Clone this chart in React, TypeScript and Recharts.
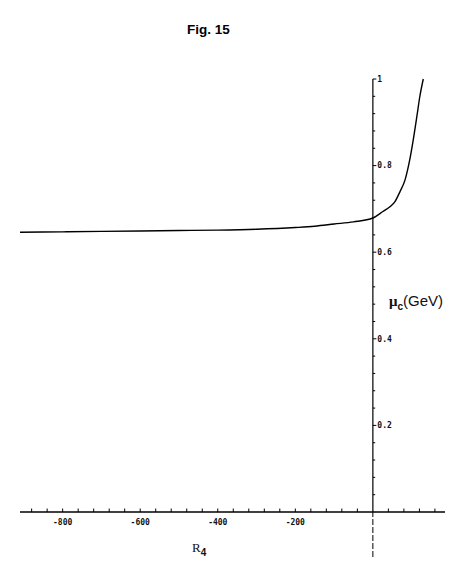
import React from "react";
import { ComposedChart, Line, XAxis, YAxis, ReferenceLine } from "recharts";

// R4 (x) and mu_c in GeV (y)
const R4 = [-910, -800, -700, -600, -500, -400, -300, -200, -150, -100, -50, 0, 26, 44, 57, 70, 83, 95, 104, 114, 121, 130];
const MU_C = [0.646, 0.647, 0.648, 0.649, 0.65, 0.651, 0.653, 0.657, 0.66, 0.665, 0.67, 0.679, 0.694, 0.705, 0.717, 0.74, 0.767, 0.813, 0.859, 0.917, 0.959, 1.0];

const X_LABEL_TICKS = [-800, -600, -400, -200];
const X_MINOR_TICKS = [-880, -840, -800, -760, -720, -680, -640, -600, -560, -520, -480, -440, -400, -360, -320, -280, -240, -200, -160, -120, -80, -40, 40, 80, 120, 160];
const Y_MAJOR_TICKS = [0.2, 0.4, 0.6, 0.8, 1.0];
const Y_MAJOR_LABELS = ["0.2", "0.4", "0.6", "0.8", "1"];
const Y_MINOR_TICKS = [0.04, 0.08, 0.12, 0.16, 0.24, 0.28, 0.32, 0.36, 0.44, 0.48, 0.52, 0.56, 0.64, 0.68, 0.72, 0.76, 0.84, 0.88, 0.92, 0.96];

const data = R4.map((r, i) => ({ r, mu: MU_C[i] }));

const tickFont = { fontSize: 8, fontFamily: "DejaVu Sans Mono", fontWeight: "bold", fill: "#111" };

export default function App() {
  return (
    <div style={{ position: "absolute", left: 0, top: 0, width: 472, height: 561, background: "#fff" }}>
      <div style={{ position: "absolute", left: 187, top: 22, fontFamily: "Liberation Sans", fontWeight: "bold", fontSize: 13.5 }}>
        Fig. 15
      </div>

      <ComposedChart width={472} height={561} data={data} margin={{ top: 79, right: 27, bottom: 29, left: 20 }}>
        <XAxis
          dataKey="r"
          type="number"
          domain={[-910, 186]}
          ticks={X_LABEL_TICKS}
          interval={0}
          tickLine={false}
          tickSize={0}
          tickMargin={7}
          height={20}
          axisLine={{ stroke: "#000", strokeWidth: 1.5 }}
          tick={tickFont}
          allowDataOverflow
        />
        <YAxis type="number" domain={[0, 1]} hide />

        {/* y axis drawn through x = 0 */}
        <ReferenceLine segment={[{ x: 0, y: 0 }, { x: 0, y: 1 }]} stroke="#000" strokeWidth={1.2} ifOverflow="visible" />
        <ReferenceLine segment={[{ x: 0, y: -0.104 }, { x: 0, y: 0 }]} stroke="#000" strokeWidth={1} strokeDasharray="6 2" ifOverflow="visible" />

        {Y_MINOR_TICKS.map((v) => (
          <ReferenceLine key={"ym" + v} segment={[{ x: 0, y: v }, { x: 6, y: v }]} stroke="#000" ifOverflow="visible" />
        ))}
        {Y_MAJOR_TICKS.map((v, i) => (
          <ReferenceLine
            key={"yM" + v}
            segment={[{ x: 0, y: v }, { x: 9, y: v }]}
            stroke="#000"
            ifOverflow="visible"
            label={{ value: Y_MAJOR_LABELS[i], position: "right", offset: 1, ...tickFont }}
          />
        ))}
        {X_MINOR_TICKS.map((v) => (
          <ReferenceLine key={"xm" + v} segment={[{ x: v, y: 0 }, { x: v, y: 0.008 }]} stroke="#000" ifOverflow="visible" />
        ))}

        <Line
          dataKey="mu"
          type="monotone"
          stroke="#000"
          strokeWidth={1.4}
          dot={false}
          isAnimationActive={false}
        />
      </ComposedChart>

      <div style={{ position: "absolute", left: 389, top: 292, fontFamily: "Liberation Sans", fontSize: 15, color: "#111", whiteSpace: "nowrap" }}>
        <span style={{ fontFamily: "Liberation Serif", fontWeight: "bold" }}>μ</span>
        <sub style={{ fontSize: 10, fontWeight: "bold", verticalAlign: -4 }}>c</sub>
        (GeV)
      </div>
      <div style={{ position: "absolute", left: 192, top: 540, fontFamily: "Liberation Serif", fontSize: 13, color: "#111", whiteSpace: "nowrap" }}>
        R
        <sub style={{ fontSize: 10, fontWeight: "bold", fontFamily: "Liberation Sans", verticalAlign: -4 }}>4</sub>
      </div>
    </div>
  );
}
